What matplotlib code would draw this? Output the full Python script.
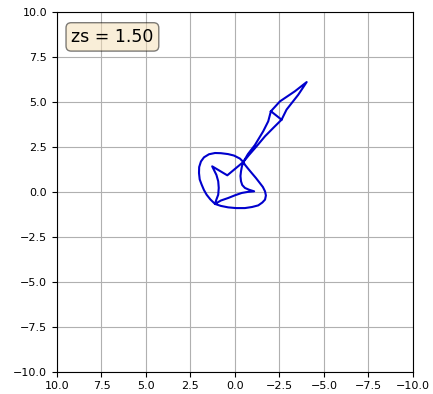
import numpy as np
import matplotlib
matplotlib.use("Agg")
import matplotlib.pyplot as plt

zs = 1.50

# projected curve (x, y) for the current zs slice
curve_x = [
    -2.02, -2.53, -3.37, -4.03,             # left vertex up to the tip
    -3.56, -2.90, -2.62,                    # tip down to right vertex
    -2.02,                                  # cross edge
    -1.87, -1.59, -1.12, -0.73, -0.47,      # down to the crossing
    # outer loop, top and left side
    -0.28, 0.06, 0.39, 0.79, 1.12, 1.46, 1.74, 1.91, 2.01, 2.02,
    1.98, 1.87, 1.74, 1.59, 1.38, 1.12,
    # outer loop, bottom and right side
    0.79, 0.38, -0.06, -0.56, -0.96, -1.31, -1.54, -1.69, -1.74, -1.69,
    -1.57, -1.40, -1.18, -0.94, -0.73, -0.56, -0.47,
    # star: inner vertex, upper-left tip, down to lower-left tip
    0.43, 1.28, 1.04, 0.94, 0.91, 0.94, 1.04, 1.12,
    # over to the right tip
    0.79, 0.38, 0.00, -0.38, -0.73, -1.08,
    # back up to the crossing
    -0.79, -0.56, -0.41, -0.34, -0.31, -0.34, -0.39, -0.47,
    -0.79, -1.18, -1.69, -2.15, -2.62,      # up to the right vertex
]
curve_y = [
    4.47, 5.02, 5.58, 6.09,
    5.39, 4.56, 4.00,
    4.47,
    3.91, 3.36, 2.59, 2.09, 1.65,
    1.84, 2.01, 2.09, 2.14, 2.15, 2.08, 1.91, 1.68, 1.37, 1.04,
    0.68, 0.39, 0.09, -0.17, -0.43, -0.68,
    -0.79, -0.87, -0.91, -0.91, -0.85, -0.76, -0.60, -0.44, -0.21, 0.02,
    0.26, 0.48, 0.76, 1.04, 1.29, 1.50, 1.65,
    0.91, 1.41, 0.93, 0.58, 0.21, -0.17, -0.43, -0.68,
    -0.49, -0.35, -0.20, -0.07, -0.01, 0.02,
    0.11, 0.21, 0.37, 0.58, 0.87, 1.13, 1.40, 1.65,
    2.04, 2.48, 3.08, 3.54, 4.00,
]

fig = plt.figure(figsize=(4.33, 3.94), dpi=100)
ax = fig.add_axes([0.1316, 0.0566, 0.822, 0.9137])

ax.plot(curve_x, curve_y, color="mediumblue", linewidth=1.5)

ax.set_xlim(10, -10)
ax.set_ylim(-10, 10)
ax.set_xticks(np.arange(10, -10.1, -2.5))
ax.set_yticks(np.arange(-10, 10.1, 2.5))
ax.tick_params(labelsize=8)
ax.grid(True)

ax.text(0.04, 0.955, f"zs = {zs:.2f}", transform=ax.transAxes,
        fontsize=12.5, va="top",
        bbox=dict(boxstyle="round", facecolor="wheat", alpha=0.5))

fig.savefig("out.png", dpi=100)
